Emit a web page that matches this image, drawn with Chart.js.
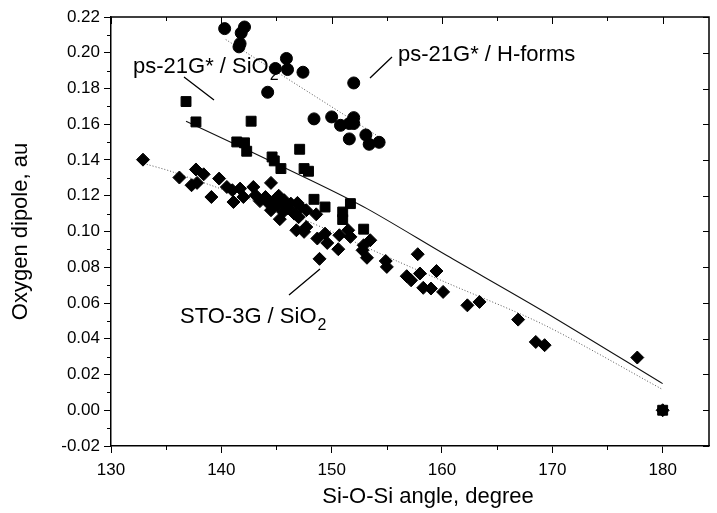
<!DOCTYPE html>
<html>
<head>
<meta charset="utf-8">
<script src="https://cdn.jsdelivr.net/npm/chart.js@4.4.0/dist/chart.umd.min.js"></script>
<style>
  html, body { margin: 0; padding: 0; background: #fff; }
  #wrap { width: 717px; height: 513px; }
</style>
</head>
<body>
<div id="wrap"><canvas id="chart" width="717" height="513"></canvas></div>
<script>
// --- Axis ticks ---
const xTickValues = [130, 140, 150, 160, 170, 180];
const yTickValues = [-0.02, 0, 0.02, 0.04, 0.06, 0.08, 0.10, 0.12, 0.14, 0.16, 0.18, 0.20, 0.22];

// --- ps-21G* / H-forms (circles) ---
const hformsPoints = [
  [140.3, 0.2135], [142.1, 0.2144], [141.8, 0.2111], [141.7, 0.2051], [141.6, 0.2033],
  [145.9, 0.1968], [146.0, 0.1906], [144.9, 0.1912], [147.4, 0.1891], [144.2, 0.1779],
  [152.0, 0.1831], [148.4, 0.1630], [150.0, 0.1641], [150.8, 0.1594], [151.6, 0.1604],
  [152.0, 0.1637], [152.0, 0.1604], [151.6, 0.1518], [153.1, 0.1540], [153.4, 0.1488],
  [154.3, 0.1499]
];
const hformsFit = [[140.4, 0.2074], [154.3, 0.1529]];

// --- ps-21G* / SiO2 (squares) ---
const psSio2Points = [
  [136.8, 0.1727], [137.7, 0.1613], [142.7, 0.1617], [141.4, 0.1501], [142.1, 0.1496],
  [142.3, 0.1449], [147.1, 0.1460], [144.6, 0.1417], [144.8, 0.1395], [145.4, 0.1352],
  [147.5, 0.1352], [147.9, 0.1337], [148.4, 0.1180], [149.4, 0.1137], [151.7, 0.1156],
  [151.0, 0.1109], [151.0, 0.1067], [152.9, 0.1013], [180.0, 0.0]
];
const psSio2Fit = [[136.8, 0.1617], [148.1, 0.1287], [153.2, 0.1128], [160.4, 0.0867], [169.3, 0.0550], [180.0, 0.0149]];

// --- STO-3G / SiO2 (diamonds) ---
const stoPoints = [
  [132.9, 0.1402], [136.2, 0.1302], [137.7, 0.1347], [138.4, 0.1320], [137.3, 0.1259],
  [137.8, 0.1272], [139.1, 0.1193], [139.8, 0.1296], [140.5, 0.1249], [141.0, 0.1231],
  [141.7, 0.1240], [141.1, 0.1165], [142.0, 0.1193], [142.9, 0.1249], [143.1, 0.1203],
  [144.5, 0.1272], [144.0, 0.1193], [144.3, 0.1156], [145.1, 0.1147], [145.7, 0.1175],
  [146.3, 0.1156], [147.2, 0.1137], [144.5, 0.1119], [145.6, 0.1109], [146.6, 0.1100],
  [147.7, 0.1119], [148.6, 0.1096], [143.5, 0.1170], [144.9, 0.1180], [146.0, 0.1130],
  [146.9, 0.1160], [147.0, 0.1080], [145.2, 0.1200], [145.3, 0.1069], [146.8, 0.1007],
  [147.5, 0.0998], [147.7, 0.1025], [148.7, 0.0961], [148.9, 0.0847], [149.4, 0.0988],
  [149.6, 0.0936], [150.6, 0.0901], [150.7, 0.0979], [151.5, 0.1007], [151.7, 0.0970],
  [152.8, 0.0895], [152.9, 0.0923], [153.2, 0.0853], [153.5, 0.0951], [154.9, 0.0835],
  [155.0, 0.0802], [156.8, 0.0750], [157.2, 0.0727], [157.8, 0.0873], [158.0, 0.0765],
  [158.3, 0.0685], [159.0, 0.0681], [159.5, 0.0779], [160.1, 0.0662], [162.3, 0.0587],
  [163.4, 0.0606], [166.9, 0.0507], [168.5, 0.0382], [169.3, 0.0364], [177.7, 0.0295],
  [180.0, 0.0]
];
const stoFit = [[133.0, 0.1380], [135.6, 0.1333], [146.9, 0.1081], [155.9, 0.0835], [160.4, 0.0714], [169.3, 0.0476], [180.0, 0.0116]];

const FONT = '"Liberation Sans", Arial, Helvetica, sans-serif';
const toXY = arr => arr.map(p => ({ x: p[0], y: p[1] }));

// frame, minor ticks and inward ticks on top / right, plus the labels
const framePlugin = {
  id: 'frame',
  afterDraw(chart) {
    const { ctx, chartArea: a, scales: { x, y } } = chart;
    ctx.save();
    ctx.strokeStyle = '#000';
    ctx.lineWidth = 1.5;
    ctx.beginPath();
    ctx.moveTo(a.left, a.top);
    ctx.lineTo(a.right, a.top);
    ctx.lineTo(a.right, a.bottom);
    ctx.stroke();
    ctx.lineWidth = 1;
    ctx.beginPath();
    for (let v = 135; v < x.max; v += 10) {
      const px = Math.round(x.getPixelForValue(v)) + 0.5;
      ctx.moveTo(px, a.bottom); ctx.lineTo(px, a.bottom + 4);
    }
    for (let v = 130; v < x.max; v += 5) {
      const px = Math.round(x.getPixelForValue(v)) + 0.5;
      const len = v % 10 === 0 ? 7 : 4;
      ctx.moveTo(px, a.top); ctx.lineTo(px, a.top + len);
    }
    for (let i = 0; i < yTickValues.length - 1; i++) {
      const py = Math.round(y.getPixelForValue((yTickValues[i] + yTickValues[i + 1]) / 2)) + 0.5;
      ctx.moveTo(a.left, py); ctx.lineTo(a.left - 4, py);
    }
    for (const v of yTickValues) {
      const py = Math.round(y.getPixelForValue(v)) + 0.5;
      ctx.moveTo(a.right, py); ctx.lineTo(a.right - 6, py);
    }
    ctx.stroke();

    ctx.fillStyle = '#000';
    // x axis title
    ctx.font = '22px ' + FONT;
    ctx.textAlign = 'center';
    ctx.textBaseline = 'middle';
    ctx.fillText('Si-O-Si angle, degree', 428, 497);

    // annotations
    ctx.textAlign = 'left';
    ctx.textBaseline = 'alphabetic';
    const label = (x0, base, main, sub) => {
      ctx.font = '22px ' + FONT;
      ctx.fillText(main, x0, base);
      if (sub) {
        const w = ctx.measureText(main).width;
        ctx.font = '16px ' + FONT;
        ctx.fillText(sub, x0 + w + 1, base + 7);
      }
    };
    label(398, 61, 'ps-21G* / H-forms');
    label(133, 73, 'ps-21G* / SiO', '2');
    label(180, 323, 'STO-3G / SiO', '2');

    ctx.lineWidth = 1.3;
    ctx.beginPath();
    ctx.moveTo(370, 78); ctx.lineTo(392, 57);
    ctx.moveTo(184, 77); ctx.lineTo(214, 100);
    ctx.moveTo(289, 295); ctx.lineTo(320, 269);
    ctx.stroke();
    ctx.restore();
  }
};

new Chart(document.getElementById('chart'), {
  type: 'scatter',
  data: {
    datasets: [
      { data: toXY(hformsPoints), pointStyle: 'circle', pointRadius: 6, backgroundColor: '#000', borderColor: '#000', borderWidth: 1, order: 1 },
      { data: toXY(psSio2Points), pointStyle: 'rect', pointRadius: 7, backgroundColor: '#000', borderColor: '#000', borderWidth: 1, order: 1 },
      { data: toXY(stoPoints), pointStyle: 'rectRot', pointRadius: 6.5, backgroundColor: '#000', borderColor: '#000', borderWidth: 1, order: 1 },
      { type: 'line', data: toXY(hformsFit), borderColor: '#555', borderWidth: 1, borderDash: [1, 2], pointRadius: 0, fill: false, order: 2 },
      { type: 'line', data: toXY(psSio2Fit), borderColor: '#111', borderWidth: 1.1, pointRadius: 0, fill: false, tension: 0.3, order: 2 },
      { type: 'line', data: toXY(stoFit), borderColor: '#555', borderWidth: 1, borderDash: [1, 2], pointRadius: 0, fill: false, tension: 0.3, order: 2 }
    ]
  },
  options: {
    responsive: false,
    animation: false,
    layout: { padding: { top: 17, right: 1, left: 0, bottom: 4 } },
    plugins: { legend: { display: false }, tooltip: { enabled: false } },
    scales: {
      x: {
        type: 'linear', min: 130, max: 184.2,
        afterBuildTicks: s => { s.ticks = xTickValues.map(v => ({ value: v })); },
        afterFit: s => { s.height = 63; },
        grid: { display: true, drawOnChartArea: false, drawTicks: true, tickLength: 7, color: '#000', lineWidth: 1 },
        border: { display: true, color: '#000', width: 1.5 },
        ticks: { color: '#000', font: { family: FONT, size: 17 }, padding: 7, maxRotation: 0, callback: v => String(v) },
        title: { display: false }
      },
      y: {
        type: 'linear', min: -0.02, max: 0.22,
        afterBuildTicks: s => { s.ticks = yTickValues.map(v => ({ value: v })); },
        afterFit: s => { s.width = 111; },
        grid: { display: true, drawOnChartArea: false, drawTicks: true, tickLength: 7, color: '#000', lineWidth: 1 },
        border: { display: true, color: '#000', width: 1.5 },
        ticks: { color: '#000', font: { family: FONT, size: 17 }, padding: 4, callback: v => v.toFixed(2) },
        title: { display: true, text: 'Oxygen dipole, au', color: '#000', font: { family: FONT, size: 22 }, padding: { top: 8, bottom: 0 } }
      }
    }
  },
  plugins: [framePlugin]
});
</script>
</body>
</html>
